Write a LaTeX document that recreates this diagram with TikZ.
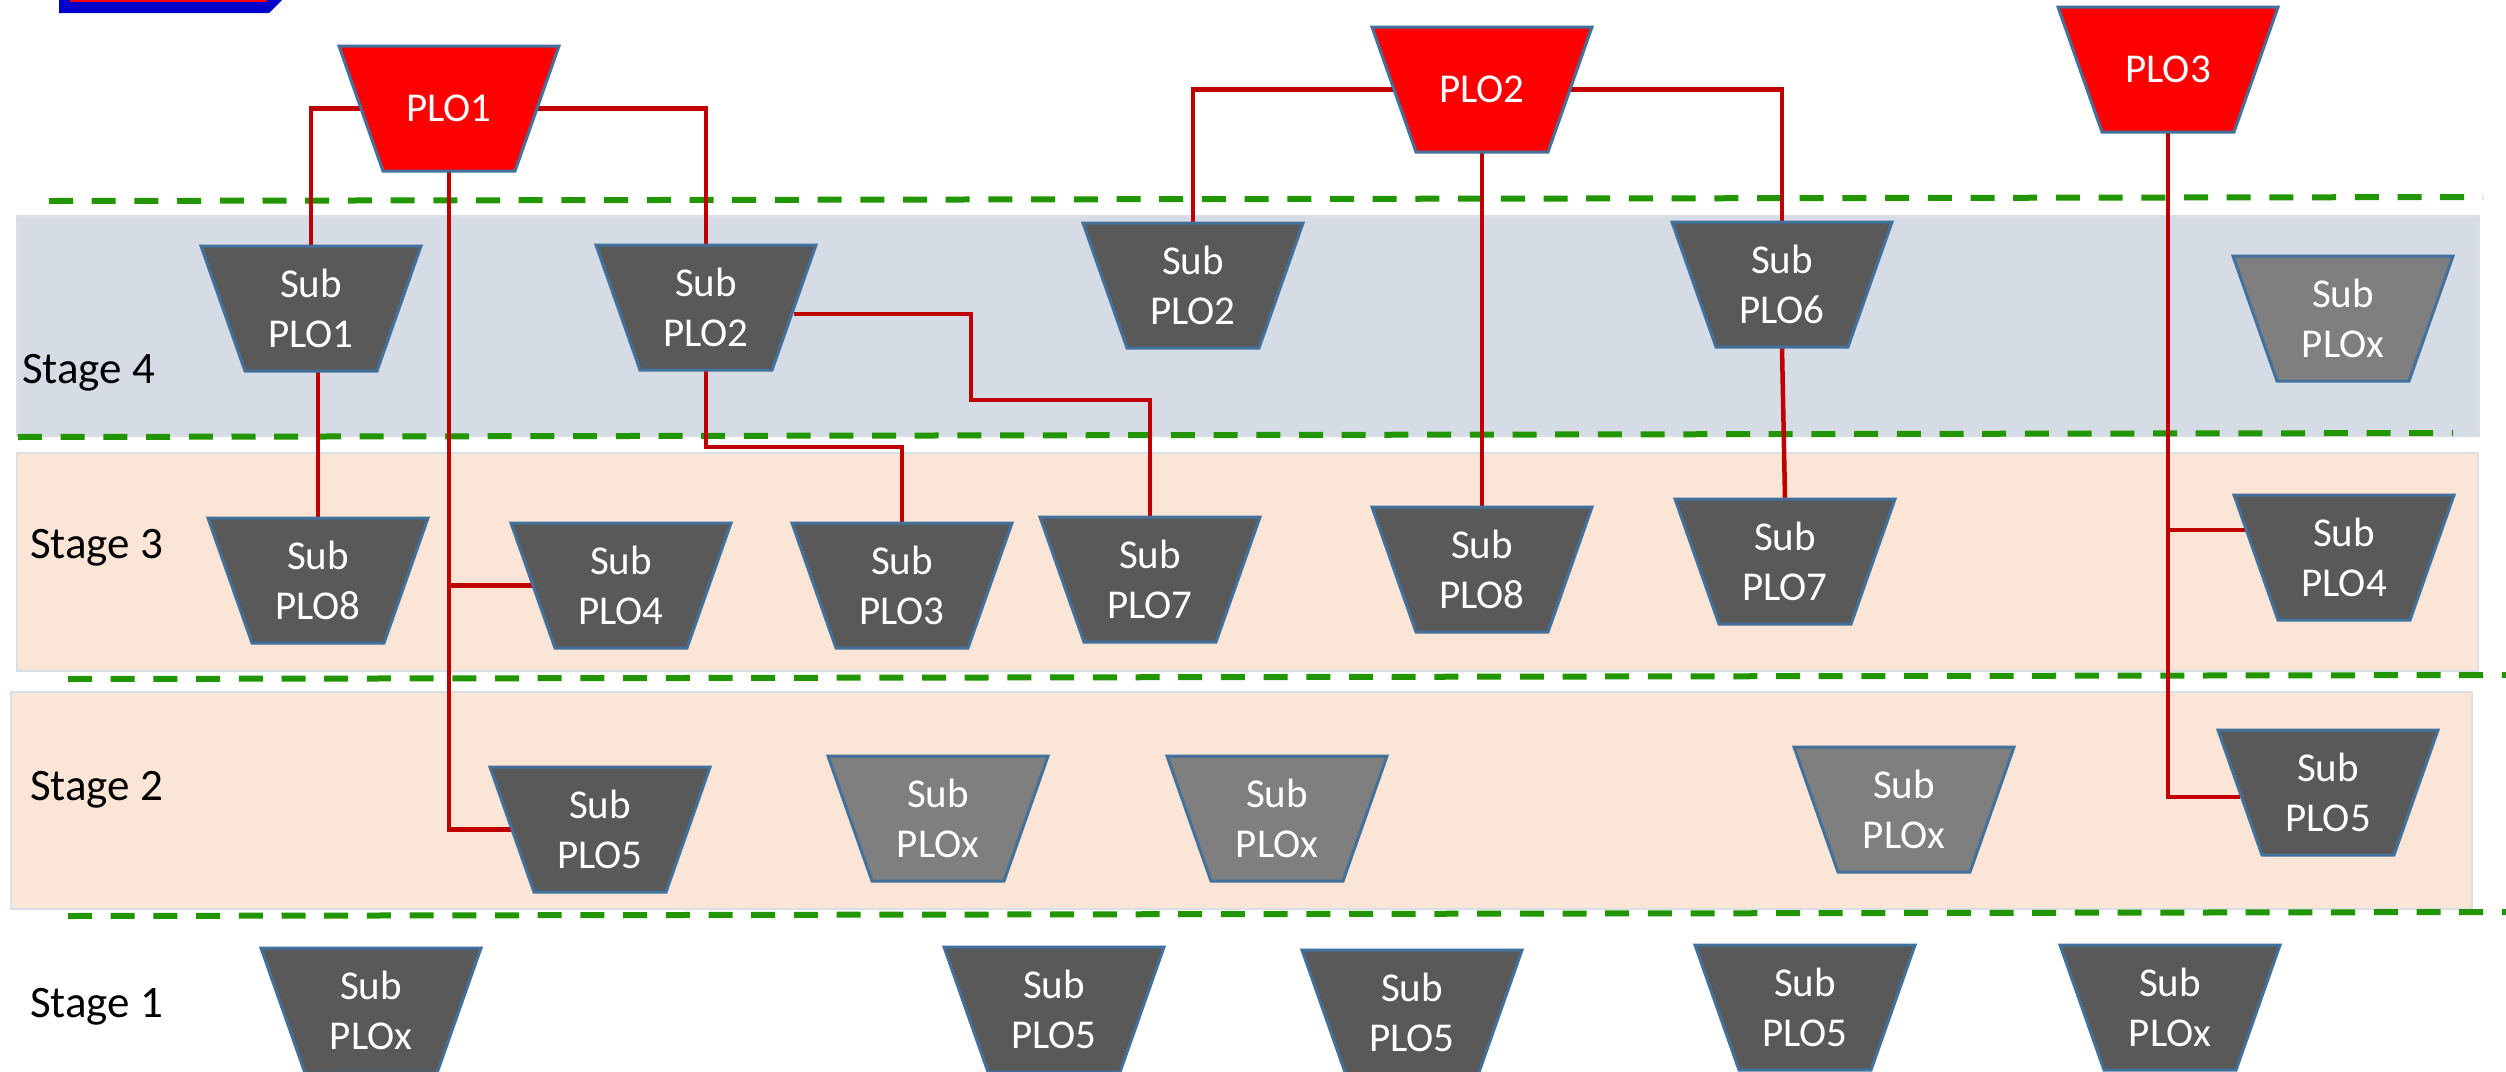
\documentclass[tikz,border=0pt]{standalone}
\usepackage{fontspec}
\setmainfont{Carlito}
\definecolor{bandblue}{HTML}{D6DCE5}
\definecolor{peach}{HTML}{FBE5D6}
\definecolor{bandedge}{HTML}{D9DEE7}
\definecolor{dashgreen}{RGB}{34,150,0}
\definecolor{linkred}{HTML}{C00000}
\definecolor{shapeedge}{HTML}{41719C}
\definecolor{dgray}{HTML}{595959}
\definecolor{lgray}{HTML}{7F7F7F}
\definecolor{plored}{HTML}{FF0000}
\definecolor{topblue}{HTML}{0000CC}
\pgfdeclarelayer{bandlayer}
\pgfdeclarelayer{linklayer}
\pgfsetlayers{bandlayer,linklayer,main}
% #1 name, #2 x centre, #3 y centre, #4 fill colour, #5 text
\newcommand\plonode[5]{%
  \path[ploborder, fill=#4] (#2-110,#3-62.5) -- (#2+110,#3-62.5)
     -- (#2+66,#3+62.5) -- (#2-66,#3+62.5) -- cycle;
  \node[plotext] (#1) at (#2,#3) {#5};
}
\begin{document}
\begin{tikzpicture}[x=1pt,y=-1pt,
 ploborder/.style={draw=shapeedge, line width=3pt, line join=miter},
 plotext/.style={shape=rectangle, minimum width=176pt, minimum height=125pt,
   inner sep=0pt, outer sep=0pt, text=white, align=center,
   font=\fontsize{41}{50}\selectfont},
 stagelbl/.style={anchor=base west, inner sep=0pt, font=\fontsize{45}{54}\selectfont, text=black},
 band/.style={draw=bandedge, line width=2pt},
 stagesep/.style={draw=dashgreen, line width=6pt, dash pattern=on 24pt off 18.7pt},
 link/.style={draw=linkred, line width=4.5pt}
]
\useasboundingbox (0,0) rectangle (2506,1071);

\begin{pgfonlayer}{bandlayer}
\fill[white] (0,0) rectangle (2506,1071);
% top-left partial shape
\fill[topblue] (59,-5) -- (287,-5) -- (269,13) -- (59,13) -- cycle;
\draw[plored, line width=3pt] (71,-10) rectangle (265,0.5);
% bands
\path[band, fill=bandblue] (17,216) rectangle (2479,436);
\path[band, fill=peach] (17,453) rectangle (2478,671);
\path[band, fill=peach] (11,692) rectangle (2472,909);
% stage separators
\draw[stagesep] (49,201) -- (2483,197);
\draw[stagesep] (18,437) -- (2453,433);
\draw[stagesep] (68,679) -- (2506,675);
\draw[stagesep] (68,916) -- (2506,912);
\end{pgfonlayer}

% stage labels
\node[stagelbl] (st4) at (22,383) {Stage 4};
\node[stagelbl] (st3) at (30,558) {Stage 3};
\node[stagelbl] (st2) at (30,800) {Stage 2};
\node[stagelbl] (st1) at (30,1017) {Stage 1};

% main PLOs
\plonode{P1}{449}{108.5}{plored}{PLO1}
\plonode{P2}{1482}{89.5}{plored}{PLO2}
\plonode{P3}{2168}{69.5}{plored}{PLO3}

% stage 4
\plonode{S4a}{311}{308.5}{dgray}{Sub\\PLO1}
\plonode{S4b}{706}{307.5}{dgray}{Sub\\PLO2}
\plonode{S4c}{1193}{285.5}{dgray}{Sub\\PLO2}
\plonode{S4d}{1782}{284.5}{dgray}{Sub\\PLO6}
\plonode{S4e}{2343}{318.5}{lgray}{Sub\\PLOx}

% stage 3
\plonode{S3a}{318}{580.5}{dgray}{Sub\\PLO8}
\plonode{S3b}{621}{585.5}{dgray}{Sub\\PLO4}
\plonode{S3c}{902}{585.5}{dgray}{Sub\\PLO3}
\plonode{S3d}{1150}{579.5}{dgray}{Sub\\PLO7}
\plonode{S3e}{1482}{569.5}{dgray}{Sub\\PLO8}
\plonode{S3f}{1785}{561.5}{dgray}{Sub\\PLO7}
\plonode{S3g}{2344}{557.5}{dgray}{Sub\\PLO4}

% stage 2
\plonode{S2a}{600}{829.5}{dgray}{Sub\\PLO5}
\plonode{S2b}{938}{818.5}{lgray}{Sub\\PLOx}
\plonode{S2c}{1277}{818.5}{lgray}{Sub\\PLOx}
\plonode{S2d}{1904}{809.5}{lgray}{Sub\\PLOx}
\plonode{S2e}{2328}{792.5}{dgray}{Sub\\PLO5}

% stage 1
\plonode{S1a}{371}{1010.5}{dgray}{Sub\\PLOx}
\plonode{S1b}{1054}{1009.5}{dgray}{Sub\\PLO5}
\plonode{S1c}{1412}{1012.5}{dgray}{Sub\\PLO5}
\plonode{S1d}{1805}{1007.5}{dgray}{Sub\\PLO5}
\plonode{S1e}{2170}{1007.5}{dgray}{Sub\\PLOx}

% bend points
\coordinate (k1) at (971,400);
\coordinate (k3) at (902,447);

% connectors (behind the shapes)
\begin{pgfonlayer}{linklayer}
\draw[link] (P1.west) -| (S4a.north);
\draw[link] (P1.east) -| (S4b.north);
\draw[link] (P1.south) |- (S2a.west);
\draw[link] (S3b.west) -- (S3b.west -| P1.south);
\draw[link] (S3a.north |- S4a.south) -- (S3a.north);
\draw[link] (S4b.south) |- (k3) -- (S3c.north);
\draw[link] ([yshift=-6.5pt]S4b.east) -| (k1) -| (S3d.north);
\draw[link] (P2.west) -| (S4c.north);
\draw[link] (P2.east) -| (S4d.north);
\draw[link] (P2.south) -- (S3e.north);
\draw[link] (S4d.south) -- (S3f.north);
\draw[link] (P3.south) |- ([yshift=-4.5pt]S2e.west);
\draw[link] ([yshift=27.5pt]S3g.west) -- ([yshift=27.5pt]S3g.west -| P3.south);
\end{pgfonlayer}
\end{tikzpicture}
\end{document}
